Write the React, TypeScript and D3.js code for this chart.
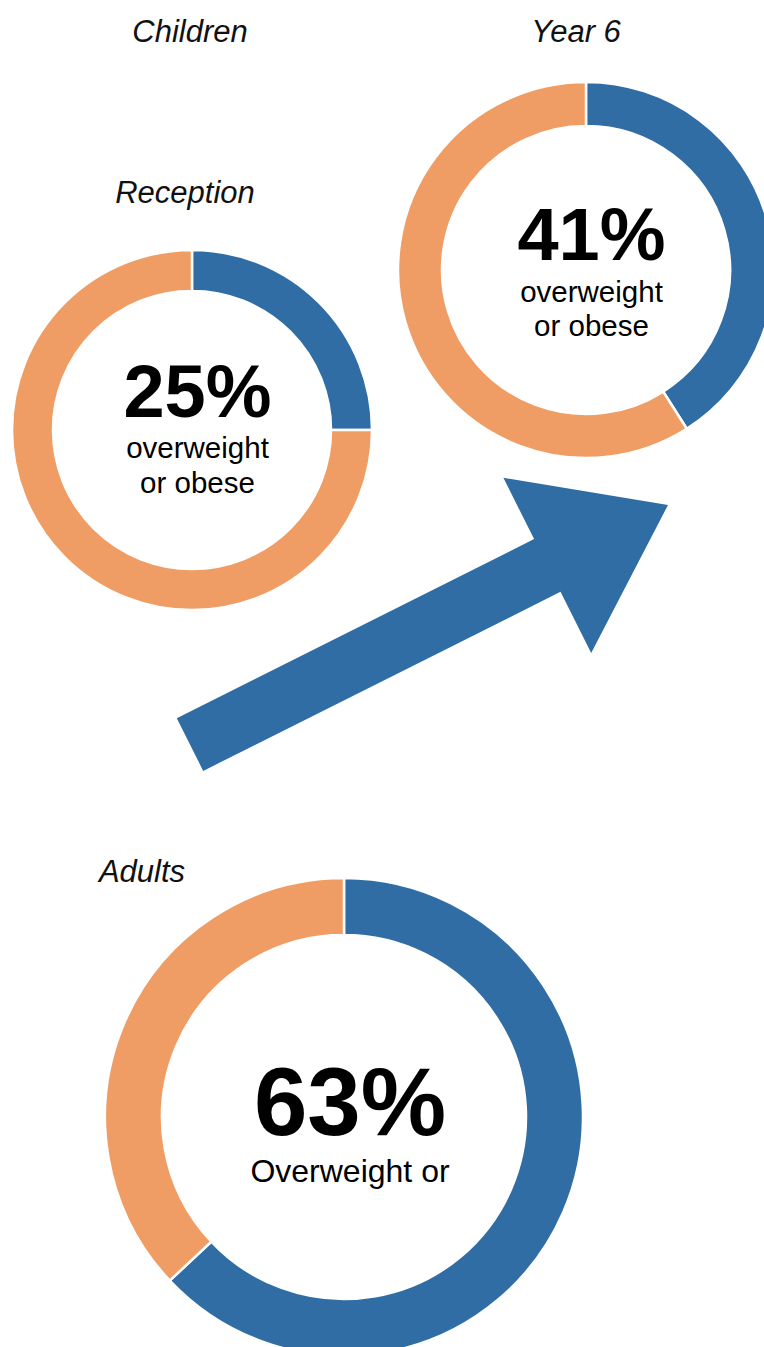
import React from "react";
import * as d3 from "d3";

const groups = ["Reception", "Year 6", "Adults"];
const overweightPct = [25, 41, 63];
const valueLabels = ["25%", "41%", "63%"];
const subLabels = [["overweight", "or obese"], ["overweight", "or obese"], ["Overweight or"]];
const headerLabels = ["Children"];

const BLUE = "#2f6da4";
const ORANGE = "#f09d65";
const FONT = "'Liberation Sans', Arial, Helvetica, sans-serif";

const layout = [
  { cx: 192, cy: 430, r: 180, ir: 139, titleX: 185, titleY: 203, textDx: 5.5, bigSize: 74, bigY: 417, subSize: 29.5, subY: [458, 493] },
  { cx: 586, cy: 270, r: 188, ir: 144, titleX: 576, titleY: 42, textDx: 5.5, bigSize: 74, bigY: 260, subSize: 29.5, subY: [302, 336] },
  { cx: 344, cy: 1117, r: 239, ir: 182, titleX: 142, titleY: 882, textDx: 6, bigSize: 96, bigY: 1135, subSize: 32, subY: [1182] },
];

function Donut({ idx }: { idx: number }) {
  const L = layout[idx];
  const pct = overweightPct[idx];
  const pie = d3.pie<number>().sort(null).value((d) => d);
  const arcs = pie([pct, 100 - pct]);
  const arc = d3.arc<d3.PieArcDatum<number>>().innerRadius(L.ir).outerRadius(L.r);
  const colors = [BLUE, ORANGE];
  return (
    <g>
      <text x={L.titleX} y={L.titleY} textAnchor="middle" fontFamily={FONT} fontStyle="italic" fontSize={31} fill="#111">
        {groups[idx]}
      </text>
      <g transform={`translate(${L.cx},${L.cy})`}>
        {arcs.map((a, i) => (
          <path key={i} d={arc(a) || ""} fill={colors[i]} stroke="#fff" strokeWidth={2.5} />
        ))}
        <text x={L.textDx} y={L.bigY - L.cy} textAnchor="middle" fontFamily={FONT} fontWeight="bold" fontSize={L.bigSize} fill="#000">
          {valueLabels[idx]}
        </text>
        {subLabels[idx].map((s, j) => (
          <text key={j} x={L.textDx} y={L.subY[j] - L.cy} textAnchor="middle" fontFamily={FONT} fontSize={L.subSize} fill="#000">
            {s}
          </text>
        ))}
      </g>
    </g>
  );
}

function Arrow() {
  // arrow geometry: tail centre, tip, shaft width, head length/width
  const tail: [number, number] = [190, 744.5];
  const tip: [number, number] = [668, 505];
  const shaftW = 59;
  const headLen = 135;
  const headHalf = 98;
  const dx = tip[0] - tail[0];
  const dy = tip[1] - tail[1];
  const len = Math.hypot(dx, dy);
  const ux = dx / len, uy = dy / len;
  const nx = -uy, ny = ux;
  const base: [number, number] = [tip[0] - ux * headLen, tip[1] - uy * headLen];
  const p = (c: [number, number], s: number): [number, number] => [c[0] + nx * s, c[1] + ny * s];
  const pts = [
    p(tail, -shaftW / 2),
    p(base, -shaftW / 2),
    p(base, -headHalf),
    tip,
    p(base, headHalf),
    p(base, shaftW / 2),
    p(tail, shaftW / 2),
  ];
  const line = d3.line();
  return <path d={line(pts) + "Z"} fill={BLUE} />;
}

export default function App() {
  return (
    <svg width={764} height={1347} style={{ position: "absolute", left: 0, top: 0, background: "#fff" }}>
      <rect width={764} height={1347} fill="#fff" />
      <text x={190} y={42} textAnchor="middle" fontFamily={FONT} fontStyle="italic" fontSize={31} fill="#111">
        {headerLabels[0]}
      </text>
      <Donut idx={0} />
      <Donut idx={1} />
      <Arrow />
      <Donut idx={2} />
    </svg>
  );
}
